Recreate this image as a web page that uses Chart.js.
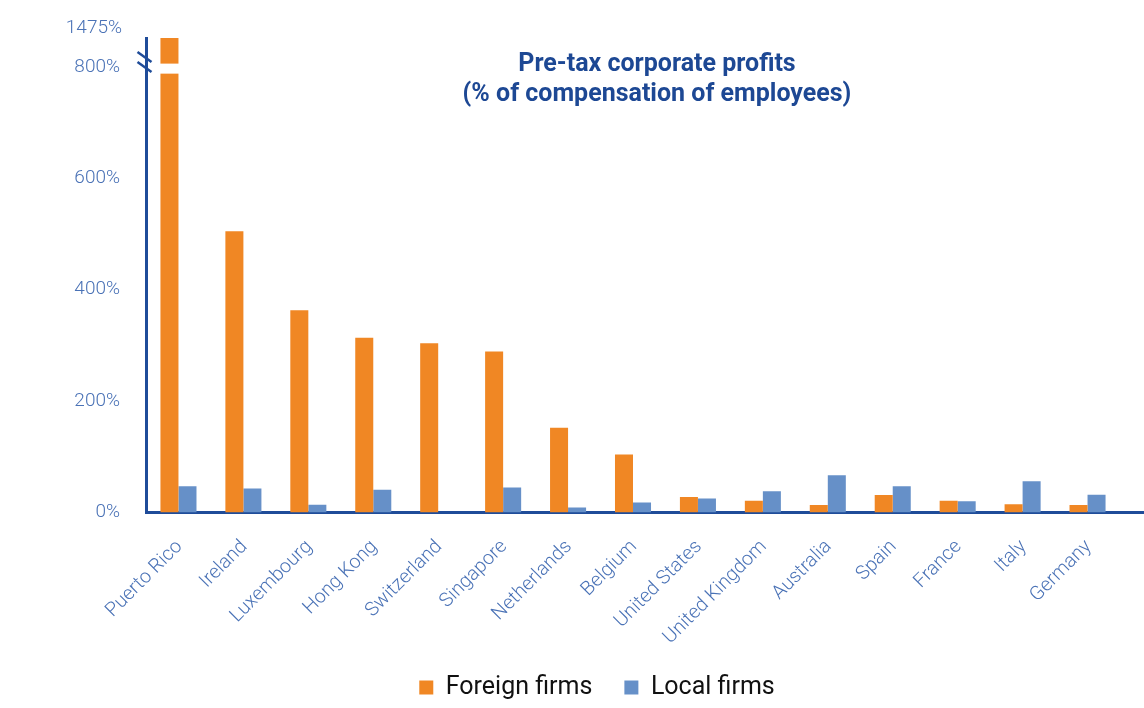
<!DOCTYPE html>
<html>
<head>
<meta charset="utf-8">
<script src="https://cdn.jsdelivr.net/npm/chart.js@4/dist/chart.umd.min.js"></script>
<style>
html, body { margin: 0; padding: 0; background: #fff; }
#wrap { width: 1144px; height: 708px; position: relative; }
</style>
</head>
<body>
<div id="wrap"><canvas id="profitChart"></canvas></div>
<script>
// data
var countries = ['Puerto Rico', 'Ireland', 'Luxembourg', 'Hong Kong', 'Switzerland', 'Singapore', 'Netherlands',
    'Belgium', 'United States', 'United Kingdom', 'Australia', 'Spain', 'France', 'Italy', 'Germany'];
var foreignFirms = [1475, 505, 363, 314, 304, 289, 152, 104, 28, 21, 13.5, 31.5, 21, 15, 13.5];
var localFirms = [47, 43, 14, 41, 0, 45, 9, 18, 25, 38, 67, 47, 20, 56, 32];
var yTicks = [0, 200, 400, 600, 800];
var breakLabel = '1475%';
var axisMax = 852;
var titleLines = ['Pre-tax corporate profits', '(% of compensation of employees)'];

var axisColor = '#1f4c99';
var tickColor = '#4a72b6';
var titleColor = '#1d4894';

var extras = {
    id: 'extras',
    afterDatasetsDraw: function(chart) {
        var ctx = chart.ctx, y = chart.scales.y, a = chart.chartArea;
        ctx.save();
        // cut in the Puerto Rico bar
        var bar = chart.getDatasetMeta(0).data[0];
        var gTop = y.getPixelForValue(806), gBot = y.getPixelForValue(788);
        ctx.fillStyle = '#ffffff';
        ctx.fillRect(bar.x - bar.width / 2 - 1, gTop, bar.width + 2, gBot - gTop);
        // break marks on the axis
        ctx.strokeStyle = axisColor;
        ctx.lineWidth = 2.5;
        [818, 800].forEach(function(v) {
            var py = y.getPixelForValue(v);
            ctx.beginPath();
            ctx.moveTo(a.left - 8.5, py - 5);
            ctx.lineTo(a.left + 5.5, py + 5);
            ctx.stroke();
        });
        // x axis runs on to the edge
        ctx.lineWidth = 3;
        ctx.beginPath();
        ctx.moveTo(a.right - 2, a.bottom);
        ctx.lineTo(chart.width, a.bottom);
        ctx.stroke();
        // top label
        ctx.fillStyle = tickColor;
        ctx.font = '300 19px Roboto';
        ctx.textAlign = 'right';
        ctx.textBaseline = 'middle';
        ctx.fillText(breakLabel, a.left - 24, a.top - 10);
        // title
        ctx.fillStyle = titleColor;
        ctx.font = 'bold 25px Roboto';
        ctx.textAlign = 'center';
        ctx.textBaseline = 'alphabetic';
        ctx.fillText(titleLines[0], 657, 71);
        ctx.fillText(titleLines[1], 657, 101);
        ctx.restore();
    }
};

var ctx = document.getElementById('profitChart').getContext('2d');
var profitChart = new Chart(ctx, {
    type: 'bar',
    data: {
        labels: countries,
        datasets: [{
            label: 'Foreign firms',
            data: foreignFirms,
            backgroundColor: '#f08724'
        }, {
            label: 'Local firms',
            data: localFirms,
            backgroundColor: '#6690c8'
        }]
    },
    options: {
        responsive: true,
        maintainAspectRatio: false,
        devicePixelRatio: 1,
        animation: false,
        categoryPercentage: 0.555,
        barPercentage: 1,
        layout: {
            padding: { top: 38, left: 74, right: 24, bottom: -2 }
        },
        scales: {
            x: {
                grid: { display: false },
                border: { display: true, color: axisColor, width: 3 },
                ticks: {
                    color: tickColor,
                    font: { family: 'Roboto', size: 19.5, weight: '300' },
                    minRotation: 45,
                    maxRotation: 45,
                    padding: 15,
                    labelOffset: 1,
                    autoSkip: false
                },
                afterFit: function(s) { s.height = 130.5; }
            },
            y: {
                min: 0,
                max: axisMax,
                grid: { display: false },
                border: { display: true, color: axisColor, width: 3 },
                afterBuildTicks: function(s) {
                    s.ticks = yTicks.map(function(v) { return { value: v }; });
                },
                ticks: {
                    color: tickColor,
                    font: { family: 'Roboto', size: 19, weight: '300' },
                    padding: 18,
                    callback: function(v) { return v + '%'; }
                },
                afterFit: function(s) { s.width = 72; }
            }
        },
        plugins: {
            legend: {
                position: 'bottom',
                labels: {
                    color: '#111111',
                    font: { family: 'Roboto', size: 25 },
                    boxWidth: 14,
                    boxHeight: 14,
                    padding: 32
                }
            },
            title: { display: false },
            tooltip: { enabled: false }
        }
    },
    plugins: [extras]
});
</script>
</body>
</html>
